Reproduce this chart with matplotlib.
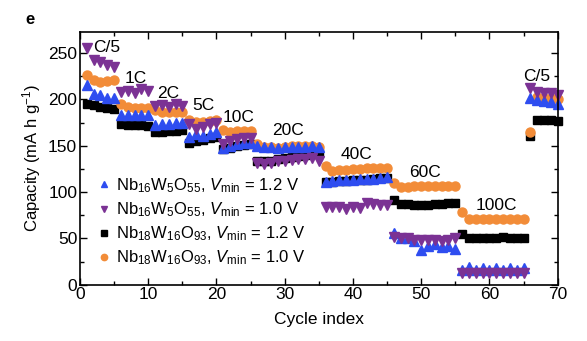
import numpy as np
import matplotlib
matplotlib.use('Agg')
import matplotlib.pyplot as plt
from matplotlib.ticker import MultipleLocator

plt.rcParams['font.family'] = ['Liberation Sans', 'DejaVu Sans']
plt.rcParams['mathtext.fontset'] = 'custom'
plt.rcParams['mathtext.rm'] = 'Liberation Sans'
plt.rcParams['mathtext.it'] = 'Liberation Sans:italic'

# cycle numbers
cycles = list(range(1, 71))

# Nb16W5O55, Vmin = 1.2 V
nb16_12 = [216, 206, 205, 202, 201,
           183, 183, 183, 183, 183,
           172, 173, 173, 174, 175,
           159, 163, 160, 163, 165,
           148, 150, 152, 153, 153,
           150, 149, 149, 148, 149, 149, 149, 149, 150, 149,
           111, 112, 113, 113, 113, 114, 114, 114, 115, 116,
           56, 50, 50, 47, 37, 42, 44, 41, 42, 38,
           16, 19, 16, 18, 16, 18, 16, 18, 16, 18,
           201, 199, 198, 197, 195]

# Nb16W5O55, Vmin = 1.0 V
nb16_10 = [255, 243, 240, 237, 235,
           208, 209, 207, 211, 209,
           193, 194, 192, 195, 193,
           173, 168, 170, 173, 175,
           152, 155, 157, 158, 158,
           131, 130, 131, 133, 134, 135, 136, 136, 137, 134,
           84, 84, 84, 82, 84, 83, 88, 87, 86, 86,
           52, 50, 50, 48, 48, 48, 48, 47, 48, 50,
           13, 13, 13, 13, 13, 13, 13, 13, 13, 13,
           212, 208, 207, 207, 205]

# Nb18W16O93, Vmin = 1.2 V
nb18_12 = [195, 194, 192, 191, 190,
           173, 172, 172, 172, 171,
           165, 165, 166, 166, 167,
           153, 155, 156, 158, 159,
           146, 148, 150, 151, 152,
           133, 133, 134, 136, 137, 138, 139, 140, 141, 142,
           111, 111, 112, 112, 113, 113, 113, 114, 115, 115,
           91, 87, 87, 86, 86, 86, 87, 87, 88, 88,
           55, 50, 50, 50, 50, 50, 51, 50, 50, 50,
           160, 178, 178, 178, 177]

# Nb18W16O93, Vmin = 1.0 V
nb18_10 = [226, 221, 219, 220, 221,
           195, 192, 191, 191, 191,
           189, 186, 186, 186, 186,
           178, 176, 176, 177, 178,
           167, 165, 166, 166, 166,
           152, 149, 149, 148, 149, 150, 150, 150, 150, 149,
           128, 123, 124, 124, 125, 125, 126, 126, 126, 126,
           110, 105, 105, 106, 106, 106, 106, 107, 107, 107,
           78, 71, 71, 71, 71, 71, 71, 71, 71, 71,
           165, 203, 202, 201, 200]

# rate labels: text, x, y
rate_labels = ['C/5', '1C', '2C', '5C', '10C', '20C', '40C', '60C', '100C', 'C/5']
rate_x = [1.9, 6.6, 11.3, 16.5, 20.9, 28.2, 38.2, 48.3, 58.0, 65.0]
rate_y = [256, 223, 206, 193, 180, 166, 141, 121, 85, 225]

fig = plt.figure(figsize=(5.87, 3.41), dpi=100)
ax = fig.add_axes([0.1363, 0.1651, 0.8137, 0.7419])

ax.plot(cycles, nb18_12, 's', color='black', ms=6, ls='none', clip_on=False,
        label='Nb$_{18}$W$_{16}$O$_{93}$, $V_{\\mathrm{min}}$ = 1.2 V')
ax.plot(cycles, nb18_10, 'o', color='#F28C38', ms=6.5, ls='none', clip_on=False,
        label='Nb$_{18}$W$_{16}$O$_{93}$, $V_{\\mathrm{min}}$ = 1.0 V')
ax.plot(cycles, nb16_12, '^', color='#2E4DF0', ms=7, ls='none', clip_on=False,
        label='Nb$_{16}$W$_{5}$O$_{55}$, $V_{\\mathrm{min}}$ = 1.2 V')
ax.plot(cycles, nb16_10, 'v', color='#7B3294', ms=7, ls='none', clip_on=False,
        label='Nb$_{16}$W$_{5}$O$_{55}$, $V_{\\mathrm{min}}$ = 1.0 V')

for t, x, y in zip(rate_labels, rate_x, rate_y):
    ax.text(x, y, t, fontsize=12.5, ha='left', va='center')

ax.set_xlim(0, 70)
ax.set_ylim(0, 273)
ax.xaxis.set_major_locator(MultipleLocator(10))
ax.xaxis.set_minor_locator(MultipleLocator(5))
ax.yaxis.set_major_locator(MultipleLocator(50))
ax.yaxis.set_minor_locator(MultipleLocator(25))
ax.tick_params(which='both', direction='in', top=True, right=True, labelsize=12.5, pad=2)
ax.tick_params(which='major', length=5, width=1)
ax.tick_params(which='minor', length=3, width=1)
for s in ax.spines.values():
    s.set_linewidth(1.2)

ax.set_xlabel('Cycle index', fontsize=12.5, labelpad=7)
ax.set_ylabel('Capacity (mA h g$^{-1}$)', fontsize=12, labelpad=4)

h, l = ax.get_legend_handles_labels()
order = [2, 3, 0, 1]
ax.legend([h[i] for i in order], [l[i] for i in order], loc='lower left',
          bbox_to_anchor=(0.015, 0.03), frameon=False, fontsize=12,
          handlelength=0.8, handletextpad=0.35, labelspacing=0.32,
          markerscale=0.7, borderaxespad=0.2)

fig.text(30 / 587, 1 - 19 / 341, 'e', fontsize=12, fontweight='bold', ha='center', va='center')

fig.savefig('out.png', dpi=100)
